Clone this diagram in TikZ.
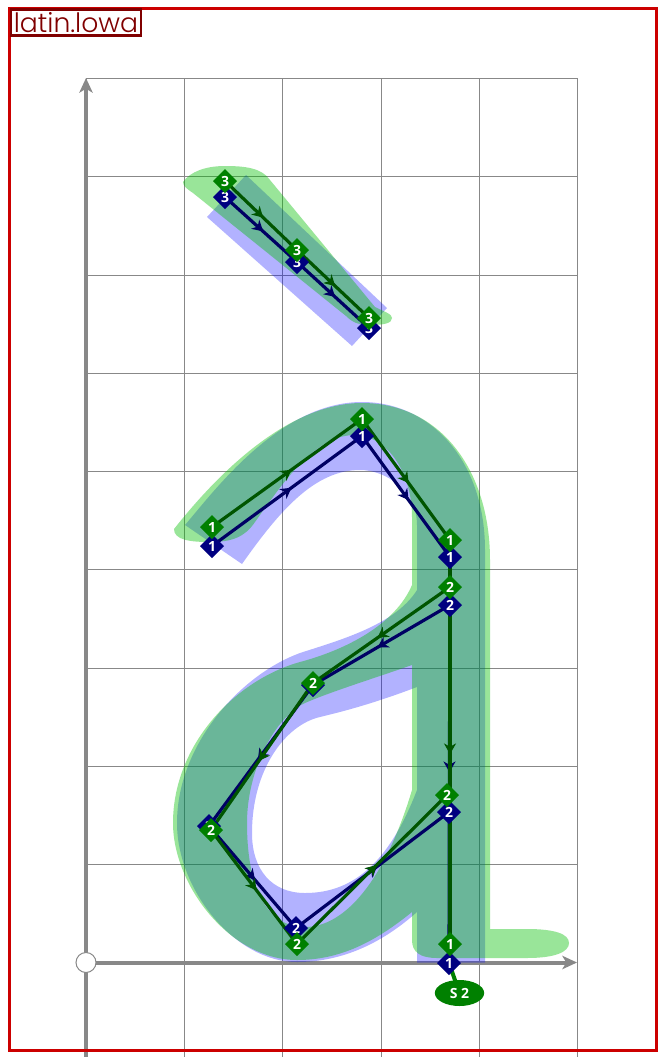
\documentclass[tikz,border=0pt]{standalone}
\usepackage{fontspec}
\setmainfont{Open Sans}
\newfontfamily\labelfont{Poppins Light}
\usetikzlibrary{arrows.meta,shapes.geometric,decorations.markings}
\pgfdeclarelayer{shapes}
\pgfdeclarelayer{conn}
\pgfsetlayers{shapes,conn,main}
\definecolor{gridgray}{RGB}{136,136,136}
\definecolor{framered}{RGB}{204,0,0}
\definecolor{labelred}{RGB}{128,0,0}
\definecolor{bluefill}{RGB}{0,0,255}
\definecolor{greenfill}{RGB}{0,190,0}
\definecolor{navynode}{RGB}{0,0,128}
\definecolor{greennode}{RGB}{0,128,0}
\definecolor{navyline}{RGB}{0,0,100}
\definecolor{greenline}{RGB}{0,85,0}
\tikzset{
  gridline/.style={draw=gridgray,line width=0.75pt},
  axisline/.style={draw=gridgray,line width=3pt,-{Stealth[length=11pt,width=10pt,inset=3pt]}},
  bluearea/.style={fill=bluefill,fill opacity=0.3,even odd rule},
  greenarea/.style={fill=greenfill,fill opacity=0.4,even odd rule},
  ptnode/.style={diamond,inner sep=0pt,outer sep=0pt,minimum width=18pt,minimum height=18pt,text=white,font=\fontsize{10.5}{10.5}\selectfont\bfseries},
  bluept/.style={ptnode,fill=navynode},
  greenpt/.style={ptnode,fill=greennode},
  withhead/.style={line width=2.4pt,postaction={decorate},decoration={markings,mark=at position 0.53 with {\arrow{Stealth[length=8pt,width=9pt,inset=2.5pt]}}}},
  blueconn/.style={withhead,draw=navyline,color=navyline},
  greenconn/.style={withhead,draw=greenline,color=greenline},
}
\begin{document}
\begin{tikzpicture}[x=0.75pt,y=-0.75pt]
\useasboundingbox (0,0) rectangle (658,1057);
\clip (0,0) rectangle (658,1057);
\begin{pgfonlayer}{shapes}
\fill[white] (0,0) rectangle (658,1057);
% grid
\foreach \gy in {78,176.5,275,373,471,569.5,668,766,864}
  \draw[gridline] (86,\gy) -- (577,\gy);
\foreach \gx in {86,184.3,282.6,381,479,577}
  \draw[gridline] (\gx,78) -- (\gx,1057);
% axes
\coordinate (xstart) at (86,962.5);
\coordinate (xend) at (577,962.5);
\coordinate (ystart) at (86,1060);
\coordinate (yend) at (86,78);
\draw[axisline] (xstart) -- (xend);
\draw[axisline] (ystart) -- (yend);
\node[circle,draw=gridgray,fill=white,line width=0.75pt,minimum size=15pt,inner sep=0pt] (origin) at (86,962.5) {};
% blue shapes
\fill[bluearea] (246,175) -- (207,217) -- (352,346) -- (387,308) -- cycle;
\fill[bluearea]
  (185,525) .. controls (215,490) and (280,402) .. (362,402)
  .. controls (430,402) and (485,460) .. (485,550)
  -- (485,962.5) -- (417,962.5) -- (417,912)
  .. controls (380,945) and (340,962) .. (297,962)
  .. controls (235,962) and (177,890) .. (177,823)
  .. controls (177,745) and (240,675) .. (300,653)
  .. controls (340,640) and (395,625) .. (417,590)
  -- (417,525)
  .. controls (417,490) and (385,470) .. (360,470)
  .. controls (315,470) and (280,510) .. (242,564)
  -- cycle
  (417,687) .. controls (375,703) and (345,711) .. (320,717)
  .. controls (285,725) and (252,770) .. (252,833)
  .. controls (252,870) and (272,893) .. (305,893)
  .. controls (355,893) and (390,860) .. (417,790)
  -- cycle;
% green shapes
\fill[greenarea]
  (183,182) .. controls (190,172) and (205,166) .. (225,166)
  .. controls (245,166) and (262,168) .. (270,180)
  -- (375,307)
  .. controls (385,312) and (392,314) .. (392,318)
  .. controls (392,323) and (385,325) .. (370,325)
  .. controls (358,325) and (352,322) .. (346,316)
  -- (193,193)
  .. controls (187,189) and (183,186) .. (183,182) -- cycle;
\fill[greenarea]
  (174,529) .. controls (205,490) and (280,403) .. (362,403)
  .. controls (440,403) and (490,470) .. (490,560)
  -- (490,929) -- (527,929)
  .. controls (555,929) and (569,934) .. (569,943)
  .. controls (569,952) and (555,958) .. (527,958)
  -- (437,958)
  .. controls (420,958) and (412,952) .. (412,940)
  -- (412,912)
  .. controls (375,942) and (340,960) .. (297,960)
  .. controls (230,960) and (173,885) .. (173,823)
  .. controls (173,745) and (235,680) .. (300,662)
  .. controls (345,650) and (395,625) .. (412,585)
  -- (412,517)
  .. controls (412,470) and (385,435) .. (355,435)
  .. controls (315,435) and (285,480) .. (255,522)
  .. controls (245,537) and (232,542) .. (210,542)
  .. controls (190,542) and (174,540) .. (174,529)
  -- cycle
  (412,665) .. controls (375,678) and (330,692) .. (305,703)
  .. controls (275,717) and (247,770) .. (247,823)
  .. controls (247,885) and (265,927) .. (305,927)
  .. controls (345,927) and (385,880) .. (412,790)
  -- cycle;
\end{pgfonlayer}
% frame and title
\node[draw=framered,line width=2.25pt,outer sep=0pt,minimum width=485pt,minimum height=781.5pt,inner sep=0pt,anchor=north west] (frame) at (9.5,8) {};
\node[draw=labelred,fill=white,line width=1.8pt,outer sep=0pt,text=labelred,inner sep=0pt,minimum width=97.5pt,minimum height=19.5pt,anchor=north west,font=\labelfont\fontsize{20}{20}\selectfont] (title) at (11,9.5) {latin.lowa};
% blue points
\node[bluept] (ba1) at (225,197) {3};
\node[bluept] (ba2) at (297,262) {3};
\node[bluept] (ba3) at (369,328) {3};
\node[bluept] (bb1) at (212,546) {1};
\node[bluept] (bb2) at (362,436) {1};
\node[bluept] (bb3) at (450,557) {1};
\node[bluept] (bb4) at (449,963) {1};
\node[bluept] (bc1) at (450,605) {2};
\node[bluept] (bc2) at (313,685) {2};
\node[bluept] (bc3) at (209,826) {2};
\node[bluept] (bc4) at (296,928) {2};
\node[bluept] (bc5) at (449,812) {2};
% green points
\node[greenpt] (ga1) at (225,181) {3};
\node[greenpt] (ga2) at (297,250) {3};
\node[greenpt] (ga3) at (369,318) {3};
\node[greenpt] (gb1) at (212,527) {1};
\node[greenpt] (gb2) at (362,419) {1};
\node[greenpt] (gb3) at (450,540) {1};
\node[greenpt] (gb4) at (450,944) {1};
\node[greenpt] (gc1) at (450,587) {2};
\node[greenpt] (gc2) at (313,683) {2};
\node[greenpt] (gc3) at (211,830) {2};
\node[greenpt] (gc4) at (297,944) {2};
\node[greenpt] (gc5) at (447,795) {2};
\node[ellipse,fill=greennode,text=white,inner sep=0pt,minimum width=37pt,minimum height=19.5pt,font=\fontsize{10.5}{10.5}\selectfont\bfseries] (side) at (459.5,993) {S 2};
\begin{pgfonlayer}{conn}
\draw[blueconn] (ba1.center) -- (ba2.center);
\draw[blueconn] (ba2.center) -- (ba3.center);
\draw[blueconn] (bb1.center) -- (bb2.center);
\draw[blueconn] (bb2.center) -- (bb3.center);
\draw[blueconn] (bb3.center) -- (bb4.center);
\draw[blueconn] (bc1.center) -- (bc2.center);
\draw[blueconn] (bc2.center) -- (bc3.center);
\draw[blueconn] (bc3.center) -- (bc4.center);
\draw[blueconn] (bc4.center) -- (bc5.center);
\draw[greenconn] (ga1.center) -- (ga2.center);
\draw[greenconn] (ga2.center) -- (ga3.center);
\draw[greenconn] (gb1.center) -- (gb2.center);
\draw[greenconn] (gb2.center) -- (gb3.center);
\draw[greenconn] (gb3.center) -- (gb4.center);
\draw[greenconn] (gc1.center) -- (gc2.center);
\draw[greenconn] (gc2.center) -- (gc3.center);
\draw[greenconn] (gc3.center) -- (gc4.center);
\draw[greenconn] (gc4.center) -- (gc5.center);
\draw[draw=greennode,line width=3pt] (bb4.center) -- (side.center);
\end{pgfonlayer}
\end{tikzpicture}
\end{document}
